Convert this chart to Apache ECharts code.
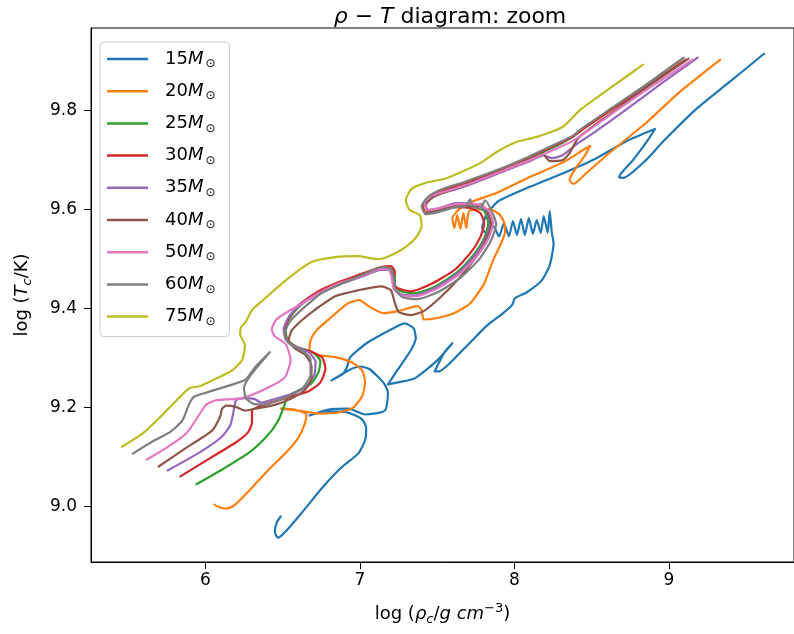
<!DOCTYPE html>
<html>
<head>
<meta charset="utf-8">
<script src="https://cdn.jsdelivr.net/npm/echarts@6/dist/echarts.min.js"></script>
<style>
  html, body { margin: 0; padding: 0; background: #fff; }
  #chart { width: 794px; height: 634px; }
</style>
</head>
<body>
<div id="chart"></div>
<script>
// Stellar masses (solar units) and tab10 colours
const masses = ['15', '20', '25', '30', '35', '40', '50', '60', '75'];
const colors = ['#1f77b4', '#ff7f0e', '#2ca02c', '#d62728', '#9467bd', '#8c564b', '#e377c2', '#7f7f7f', '#bcbd22'];
const xTicks = [6, 7, 8, 9];
const yTicks = [9.0, 9.2, 9.4, 9.6, 9.8];

// Central evolution tracks: [log rho_c, log T_c]
const track15 = [[6.488,8.980],[6.462,8.968],[6.450,8.949],[6.469,8.937],[6.604,8.980],[6.751,9.036],[6.880,9.079],[6.989,9.107],[7.034,9.134],[7.041,9.160],[7.008,9.178],[6.893,9.192],[6.764,9.192],[6.674,9.184],[6.796,9.196],[6.925,9.198],[7.034,9.186],[7.163,9.194],[7.182,9.231],[7.156,9.249],[7.066,9.277],[7.002,9.283],[6.938,9.277],[6.861,9.263],[6.816,9.255],[6.893,9.269],[6.918,9.283],[6.938,9.302],[7.053,9.332],[7.227,9.362],[7.291,9.370],[7.349,9.360],[7.362,9.340],[7.330,9.316],[7.233,9.271],[7.182,9.247],[7.246,9.251],[7.355,9.259],[7.503,9.296],[7.599,9.330],[7.548,9.312],[7.484,9.273],[7.509,9.273],[7.664,9.316],[7.824,9.366],[7.920,9.389],[7.985,9.407],[8.004,9.421],[8.081,9.433],[8.177,9.457],[8.229,9.488],[8.254,9.532],[8.242,9.555],[8.229,9.597],[8.216,9.553],[8.190,9.587],[8.171,9.553],[8.145,9.579],[8.120,9.551],[8.094,9.583],[8.068,9.549],[8.043,9.581],[8.017,9.549],[7.991,9.577],[7.965,9.546],[7.933,9.573],[7.901,9.546],[7.863,9.567],[7.824,9.551],[7.792,9.563],[7.824,9.593],[7.863,9.607],[7.895,9.617],[8.100,9.646],[8.319,9.674],[8.531,9.704],[8.743,9.741],[8.910,9.763],[8.865,9.741],[8.768,9.700],[8.678,9.666],[8.704,9.664],[8.852,9.700],[8.961,9.737],[9.173,9.802],[9.385,9.856],[9.616,9.915]];

const track20 = [[6.058,9.004],[6.096,8.998],[6.141,8.996],[6.193,9.004],[6.283,9.032],[6.411,9.075],[6.540,9.115],[6.604,9.140],[6.642,9.166],[6.655,9.186],[6.578,9.196],[6.488,9.198],[6.604,9.194],[6.732,9.188],[6.861,9.190],[6.957,9.200],[7.015,9.223],[7.034,9.251],[7.015,9.275],[6.951,9.291],[6.841,9.302],[6.732,9.306],[6.674,9.316],[6.681,9.336],[6.719,9.356],[6.809,9.381],[6.925,9.411],[6.996,9.417],[7.066,9.403],[7.150,9.391],[7.246,9.395],[7.375,9.405],[7.400,9.397],[7.413,9.378],[7.503,9.381],[7.612,9.391],[7.715,9.411],[7.805,9.451],[7.863,9.498],[7.908,9.528],[7.940,9.555],[7.933,9.575],[7.901,9.591],[7.837,9.601],[7.708,9.597],[7.689,9.563],[7.670,9.593],[7.651,9.561],[7.631,9.589],[7.612,9.563],[7.599,9.583],[7.651,9.603],[7.734,9.617],[7.888,9.634],[8.100,9.666],[8.319,9.696],[8.447,9.721],[8.492,9.729],[8.454,9.708],[8.402,9.686],[8.357,9.660],[8.383,9.652],[8.466,9.674],[8.640,9.721],[8.852,9.775],[9.064,9.836],[9.333,9.903]];

const track25 = [[5.942,9.045],[6.109,9.075],[6.283,9.109],[6.398,9.142],[6.469,9.172],[6.507,9.200],[6.533,9.223],[6.604,9.235],[6.687,9.249],[6.732,9.271],[6.745,9.293],[6.694,9.312],[6.597,9.322],[6.533,9.336],[6.520,9.356],[6.546,9.381],[6.610,9.405],[6.738,9.433],[6.867,9.449],[7.015,9.466],[7.143,9.480],[7.201,9.480],[7.227,9.466],[7.227,9.447],[7.265,9.435],[7.349,9.431],[7.477,9.443],[7.631,9.474],[7.734,9.508],[7.805,9.542],[7.831,9.573],[7.805,9.597],[7.734,9.607],[7.618,9.607],[7.509,9.599],[7.439,9.597],[7.426,9.611],[7.458,9.625],[7.535,9.636],[7.682,9.652],[7.888,9.676],[8.100,9.704],[8.312,9.735],[8.377,9.747],[8.454,9.765],[8.646,9.808],[8.852,9.852],[9.089,9.905]];

const track30 = [[5.839,9.061],[6.026,9.097],[6.199,9.130],[6.276,9.150],[6.302,9.170],[6.302,9.194],[6.366,9.204],[6.540,9.221],[6.668,9.233],[6.745,9.251],[6.777,9.279],[6.758,9.300],[6.694,9.312],[6.591,9.322],[6.533,9.334],[6.514,9.356],[6.540,9.381],[6.604,9.407],[6.732,9.435],[6.861,9.453],[7.008,9.470],[7.137,9.484],[7.201,9.486],[7.227,9.474],[7.214,9.453],[7.246,9.441],[7.330,9.435],[7.458,9.449],[7.612,9.478],[7.715,9.512],[7.779,9.544],[7.805,9.573],[7.779,9.593],[7.715,9.603],[7.612,9.605],[7.503,9.597],[7.426,9.593],[7.407,9.609],[7.445,9.625],[7.522,9.638],[7.676,9.654],[7.888,9.678],[8.100,9.706],[8.312,9.737],[8.377,9.747],[8.447,9.763],[8.640,9.804],[8.852,9.848],[9.109,9.903]];

const track35 = [[5.756,9.073],[5.961,9.109],[6.103,9.140],[6.161,9.164],[6.180,9.188],[6.199,9.215],[6.257,9.219],[6.321,9.217],[6.360,9.210],[6.424,9.215],[6.552,9.227],[6.655,9.243],[6.707,9.267],[6.713,9.293],[6.668,9.312],[6.578,9.324],[6.520,9.338],[6.507,9.358],[6.540,9.383],[6.604,9.405],[6.732,9.431],[6.861,9.449],[7.008,9.464],[7.137,9.478],[7.195,9.478],[7.214,9.462],[7.220,9.441],[7.265,9.429],[7.355,9.427],[7.484,9.441],[7.631,9.470],[7.740,9.506],[7.811,9.540],[7.843,9.573],[7.817,9.597],[7.747,9.611],[7.625,9.613],[7.516,9.603],[7.439,9.599],[7.419,9.613],[7.464,9.627],[7.541,9.634],[7.689,9.648],[7.888,9.672],[8.100,9.698],[8.190,9.710],[8.242,9.704],[8.312,9.710],[8.389,9.729],[8.531,9.759],[8.723,9.802],[8.948,9.854],[9.186,9.907]];

const track40 = [[5.698,9.081],[5.878,9.119],[6.045,9.154],[6.096,9.182],[6.109,9.198],[6.135,9.204],[6.193,9.202],[6.257,9.194],[6.328,9.198],[6.456,9.206],[6.559,9.219],[6.642,9.235],[6.687,9.259],[6.687,9.283],[6.649,9.306],[6.578,9.320],[6.540,9.336],[6.559,9.356],[6.623,9.376],[6.707,9.397],[6.841,9.425],[6.989,9.437],[7.137,9.445],[7.201,9.437],[7.227,9.411],[7.252,9.393],[7.330,9.387],[7.413,9.395],[7.522,9.423],[7.644,9.462],[7.747,9.502],[7.817,9.538],[7.850,9.571],[7.824,9.597],[7.779,9.611],[7.747,9.605],[7.631,9.609],[7.522,9.599],[7.445,9.595],[7.426,9.609],[7.464,9.623],[7.541,9.634],[7.689,9.650],[7.888,9.674],[8.100,9.700],[8.190,9.710],[8.229,9.698],[8.312,9.700],[8.357,9.714],[8.415,9.745],[8.627,9.795],[8.852,9.846],[9.128,9.905]];

const track50 = [[5.621,9.095],[5.750,9.119],[5.878,9.148],[5.961,9.186],[6.006,9.206],[6.071,9.215],[6.238,9.219],[6.411,9.241],[6.514,9.261],[6.552,9.296],[6.520,9.328],[6.450,9.344],[6.430,9.358],[6.462,9.379],[6.540,9.395],[6.629,9.411],[6.745,9.433],[6.867,9.451],[7.015,9.466],[7.137,9.480],[7.188,9.478],[7.207,9.462],[7.220,9.439],[7.272,9.427],[7.362,9.425],[7.490,9.439],[7.637,9.468],[7.753,9.504],[7.830,9.540],[7.863,9.573],[7.830,9.599],[7.753,9.611],[7.625,9.611],[7.516,9.603],[7.439,9.599],[7.419,9.613],[7.458,9.627],[7.541,9.636],[7.689,9.650],[7.888,9.674],[8.100,9.700],[8.312,9.729],[8.389,9.741],[8.466,9.757],[8.659,9.800],[8.884,9.848],[9.154,9.903]];

const track60 = [[5.531,9.107],[5.660,9.132],[5.769,9.150],[5.852,9.174],[5.891,9.204],[5.923,9.221],[5.994,9.229],[6.199,9.249],[6.263,9.257],[6.321,9.281],[6.373,9.298],[6.417,9.312],[6.360,9.291],[6.283,9.261],[6.250,9.239],[6.263,9.219],[6.308,9.208],[6.373,9.206],[6.540,9.223],[6.629,9.239],[6.681,9.267],[6.681,9.298],[6.623,9.316],[6.540,9.330],[6.514,9.350],[6.552,9.376],[6.642,9.403],[6.751,9.431],[6.873,9.449],[7.015,9.468],[7.143,9.484],[7.195,9.482],[7.220,9.464],[7.233,9.437],[7.278,9.423],[7.368,9.419],[7.503,9.433],[7.650,9.462],[7.773,9.500],[7.850,9.538],[7.882,9.571],[7.850,9.599],[7.811,9.619],[7.779,9.603],[7.728,9.605],[7.715,9.621],[7.682,9.607],[7.618,9.605],[7.503,9.595],[7.426,9.591],[7.400,9.607],[7.439,9.625],[7.522,9.640],[7.676,9.656],[7.888,9.680],[8.100,9.708],[8.312,9.739],[8.377,9.749],[8.441,9.765],[8.634,9.806],[8.852,9.852],[9.096,9.907]];

const track75 = [[5.460,9.121],[5.595,9.148],[5.705,9.180],[5.814,9.215],[5.897,9.239],[5.961,9.243],[6.045,9.255],[6.173,9.275],[6.238,9.296],[6.257,9.326],[6.225,9.348],[6.231,9.362],[6.263,9.374],[6.302,9.397],[6.366,9.415],[6.520,9.457],[6.687,9.494],[6.841,9.504],[6.989,9.506],[7.066,9.502],[7.124,9.500],[7.265,9.518],[7.355,9.540],[7.400,9.567],[7.388,9.589],[7.323,9.599],[7.297,9.619],[7.336,9.642],[7.426,9.654],[7.567,9.664],[7.779,9.694],[7.888,9.717],[8.017,9.737],[8.145,9.747],[8.312,9.767],[8.428,9.802],[8.640,9.850],[8.833,9.893]];

const tracks = [track15, track20, track25, track30, track35, track40, track50, track60, track75];

const FONT = 'DejaVu Sans';

const chart = echarts.init(document.getElementById('chart'), null, { renderer: 'canvas' });

const series = masses.map((m, i) => ({
  name: m,
  type: 'line',
  data: tracks[i],
  showSymbol: false,
  symbol: 'none',
  smooth: 0.2,
  lineStyle: { color: colors[i], width: 2.2, cap: 'round', join: 'round' },
  itemStyle: { color: colors[i] },
  clip: true,
  z: 2 + i
}));

chart.setOption({
  animation: false,
  backgroundColor: '#fff',
  title: {
    text: '{i|ρ} − {i|T} diagram: zoom',
    left: 445,
    textAlign: 'center',
    top: 1,
    textStyle: {
      fontFamily: FONT, fontSize: 22, fontWeight: 'normal', color: '#000',
      rich: { i: { fontFamily: FONT, fontSize: 22, fontStyle: 'italic', color: '#000' } }
    }
  },
  grid: {
    left: 91, right: -5, top: 28, bottom: 72,
    show: true, borderColor: '#000', borderWidth: 1, backgroundColor: 'transparent'
  },
  legend: {
    orient: 'vertical',
    left: 100, top: 42,
    padding: [8, 14, 9, 7],
    itemGap: 12.2,
    itemWidth: 41, itemHeight: 2.5,
    icon: 'rect',
    backgroundColor: 'rgba(255,255,255,0.8)',
    borderColor: '#cccccc', borderWidth: 1, borderRadius: 4,
    selectedMode: false,
    data: masses.map((m, i) => ({ name: m, itemStyle: { color: colors[i] } })),
    formatter: name => '{n|' + name + '}{m|M}{s|⊙}',
    textStyle: {
      fontFamily: FONT, fontSize: 18, color: '#000', padding: [0, 0, 0, 12],
      rich: {
        n: { fontFamily: FONT, fontSize: 18, lineHeight: 22, color: '#000' },
        m: { fontFamily: FONT, fontSize: 18, lineHeight: 22, fontStyle: 'italic', color: '#000' },
        s: { fontFamily: FONT, fontSize: 12, lineHeight: 12, verticalAlign: 'bottom', color: '#000', padding: [0, 0, 0, 2] }
      }
    }
  },
  xAxis: {
    type: 'value', min: 5.26, max: 9.81,
    axisLine: { show: true, onZero: false, lineStyle: { color: '#000', width: 1 } },
    axisTick: { show: true, inside: false, length: 7, customValues: xTicks, lineStyle: { color: '#000', width: 1 } },
    axisLabel: { customValues: xTicks, margin: 10, fontFamily: FONT, fontSize: 17, color: '#000' },
    splitLine: { show: false },
    name: '{r|log (}{i|ρ}{sub|c}{r|/}{i|g cm}{sup|−3}{r|)}',
    nameLocation: 'middle', nameGap: 40,
    nameTextStyle: {
      fontFamily: FONT, fontSize: 18, color: '#000',
      rich: {
        r: { fontFamily: FONT, fontSize: 18, lineHeight: 24, color: '#000' },
        i: { fontFamily: FONT, fontSize: 18, lineHeight: 24, fontStyle: 'italic', color: '#000' },
        sub: { fontFamily: FONT, fontSize: 13, lineHeight: 13, fontStyle: 'italic', verticalAlign: 'bottom', color: '#000' },
        sup: { fontFamily: FONT, fontSize: 13, lineHeight: 13, verticalAlign: 'top', color: '#000' }
      }
    }
  },
  yAxis: {
    type: 'value', min: 8.888, max: 9.967,
    axisLine: { show: true, onZero: false, lineStyle: { color: '#000', width: 1 } },
    axisTick: { show: true, inside: false, length: 7, customValues: yTicks, lineStyle: { color: '#000', width: 1 } },
    axisLabel: { customValues: yTicks, margin: 14, fontFamily: FONT, fontSize: 17, color: '#000', formatter: v => v.toFixed(1) },
    splitLine: { show: false },
    name: '{r|log (}{i|T}{sub|c}{r|/K)}',
    nameLocation: 'middle', nameRotate: 90, nameGap: 57,
    nameTextStyle: {
      fontFamily: FONT, fontSize: 18, color: '#000',
      rich: {
        r: { fontFamily: FONT, fontSize: 18, lineHeight: 24, color: '#000' },
        i: { fontFamily: FONT, fontSize: 18, lineHeight: 24, fontStyle: 'italic', color: '#000' },
        sub: { fontFamily: FONT, fontSize: 13, lineHeight: 13, fontStyle: 'italic', verticalAlign: 'bottom', color: '#000' }
      }
    }
  },
  series: series
});
</script>
</body>
</html>
